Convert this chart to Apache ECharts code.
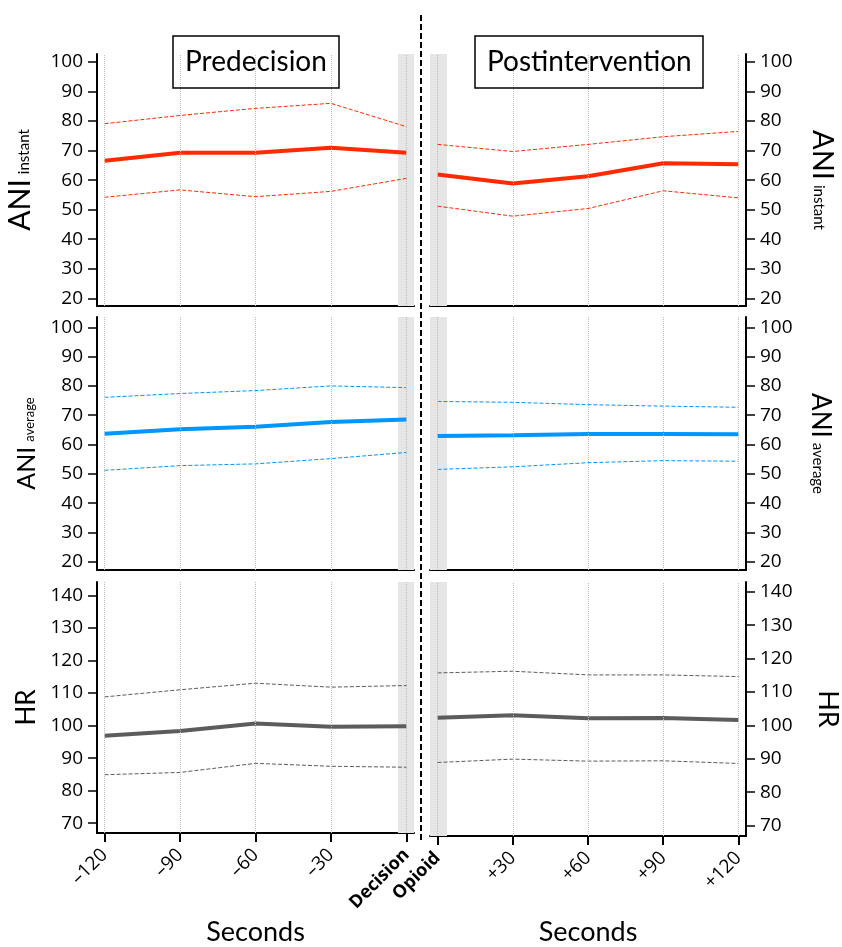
<!DOCTYPE html>
<html><head><meta charset="utf-8">
<script src="https://cdn.jsdelivr.net/npm/echarts@6/dist/echarts.min.js"></script>
<style>html,body{margin:0;padding:0;background:#fff}#c{width:842px;height:947px}</style>
</head><body><div id="c"></div>
<script>
const preSeconds = [-120, -90, -60, -30, 0];
const preLabels = ['–120', '–90', '–60', '–30', 'Decision'];
const postSeconds = [0, 30, 60, 90, 120];
const postLabels = ['Opioid', '+30', '+60', '+90', '+120'];

const aniInstPreMean = [66.6, 69.3, 69.3, 71.0, 69.3];
const aniInstPreUpper = [79.1, 81.9, 84.3, 86.0, 78.1];
const aniInstPreLower = [54.2, 56.7, 54.4, 56.2, 60.6];
const aniInstPostMean = [61.9, 58.9, 61.3, 65.7, 65.4];
const aniInstPostUpper = [72.1, 69.7, 72.1, 74.7, 76.5];
const aniInstPostLower = [51.2, 47.8, 50.4, 56.4, 54.0];

const aniAvgPreMean = [63.7, 65.2, 66.1, 67.7, 68.5];
const aniAvgPreUpper = [76.1, 77.4, 78.4, 80.0, 79.4];
const aniAvgPreLower = [51.2, 52.8, 53.4, 55.2, 57.3];
const aniAvgPostMean = [62.9, 63.2, 63.6, 63.6, 63.5];
const aniAvgPostUpper = [74.7, 74.4, 73.6, 73.1, 72.7];
const aniAvgPostLower = [51.5, 52.4, 53.8, 54.5, 54.3];

const hrPreMean = [96.9, 98.3, 100.6, 99.6, 99.8];
const hrPreUpper = [108.8, 111.0, 113.0, 111.8, 112.3];
const hrPreLower = [84.9, 85.6, 88.4, 87.5, 87.2];
const hrPostMean = [102.3, 103.0, 102.1, 102.2, 101.6];
const hrPostUpper = [115.7, 116.2, 115.1, 115.1, 114.6];
const hrPostLower = [88.9, 89.9, 89.3, 89.4, 88.6];

const aniTicks = [20, 30, 40, 50, 60, 70, 80, 90, 100];
const hrTicks = [70, 80, 90, 100, 110, 120, 130, 140];

const RED = '#ff2a00', BLUE = '#0096ff', GRAY = '#5c5c5c';
const FONT = 'Lato';
const TICKFONT = 'Open Sans';

const chart = echarts.init(document.getElementById('c'), null, {renderer: 'canvas'});

const grids = [
  {left: 97, top: 54, width: 317, height: 252},
  {left: 430, top: 54, width: 316, height: 252},
  {left: 97, top: 317, width: 317, height: 253},
  {left: 430, top: 317, width: 316, height: 253},
  {left: 97, top: 582, width: 317, height: 254},
  {left: 430, top: 582, width: 316, height: 254}
];

function xAx(i, isPre, show, nameGap) {
  const secs = isPre ? preSeconds : postSeconds;
  const labs = isPre ? preLabels : postLabels;
  return {
    type: 'value', gridIndex: i, min: isPre ? -123 : -3, max: isPre ? 3 : 123,
    axisLine: {show: true, onZero: false, lineStyle: {color: '#000', width: 2}},
    axisTick: {show: show, customValues: secs, length: 9, lineStyle: {color: '#000', width: 2}},
    axisLabel: {
      show: show, customValues: secs, rotate: 45, margin: 19,
      fontFamily: TICKFONT, fontSize: 19, color: '#000',
      formatter: function (v) {
        const k = secs.indexOf(v);
        const t = labs[k];
        return (t === 'Decision' || t === 'Opioid') ? '{b|' + t + '}' : t;
      },
      rich: {b: {fontWeight: 'bold', fontSize: 18, fontFamily: TICKFONT, color: '#000'}}
    },
    splitLine: {show: false},
    name: show ? 'Seconds' : '', nameLocation: 'middle', nameGap: nameGap || 0,
    nameMoveOverlap: false,
    nameTextStyle: {fontFamily: FONT, fontSize: 27, color: '#000'}
  };
}

function yAx(i, right, min, max, ticks, big, small, bigSize, smallSize, nameGap) {
  return {
    type: 'value', gridIndex: i, position: right ? 'right' : 'left', min: min, max: max,
    axisLine: {show: true, onZero: false, lineStyle: {color: '#000', width: 2}},
    axisTick: {show: true, customValues: ticks, length: 9, lineStyle: {color: '#000', width: 1.5}},
    axisLabel: {customValues: ticks, margin: 14, fontFamily: TICKFONT, fontSize: 19, color: '#000'},
    splitLine: {show: false},
    name: small ? '{a|' + big + '}{s|' + small + '}' : '{a|' + big + '}',
    nameLocation: 'middle', nameGap: nameGap, nameRotate: right ? -90 : 90,
    nameMoveOverlap: false,
    nameTextStyle: {
      fontFamily: FONT, color: '#000',
      rich: {
        a: {fontFamily: FONT, fontSize: bigSize, color: '#000'},
        s: {fontFamily: FONT, fontSize: smallSize, color: '#000', verticalAlign: 'bottom', padding: [0, 0, 3, 5]}
      }
    }
  };
}

function panel(i, xs, mean, upper, lower, color, bandFrom, bandTo) {
  const pts = arr => xs.map((x, k) => [x, arr[k]]);
  const dashed = (arr) => ({
    type: 'line', xAxisIndex: i, yAxisIndex: i, data: pts(arr), symbol: 'none', silent: true, z: 3,
    lineStyle: {color: color, width: 1, type: [4, 2]}
  });
  return [
    {
      type: 'line', xAxisIndex: i, yAxisIndex: i, data: pts(mean), symbol: 'none', silent: true, z: 1,
      lineStyle: {opacity: 0},
      markArea: {silent: true, itemStyle: {color: '#e6e6e6'}, data: [[{xAxis: bandFrom}, {xAxis: bandTo}]]},
      markLine: {
        silent: true, symbol: 'none', label: {show: false},
        lineStyle: {type: 'dotted', color: '#bdbdbd', width: 1},
        data: xs.map(x => ({xAxis: x}))
      }
    },
    dashed(upper),
    dashed(lower),
    {
      type: 'line', xAxisIndex: i, yAxisIndex: i, data: pts(mean), symbol: 'none', silent: true, z: 4,
      lineStyle: {color: color, width: 4}
    }
  ];
}

const option = {
  animation: false,
  backgroundColor: '#fff',
  title: [
    {text: 'Predecision', left: 173, top: 36, borderColor: '#000', borderWidth: 1.5, padding: [12, 12],
     textStyle: {fontFamily: FONT, fontSize: 28, fontWeight: 'normal', color: '#000', lineHeight: 28}},
    {text: 'Postintervention', left: 475, top: 36, borderColor: '#000', borderWidth: 1.5, padding: [12, 12],
     textStyle: {fontFamily: FONT, fontSize: 28, fontWeight: 'normal', color: '#000', lineHeight: 28}}
  ],
  grid: grids,
  xAxis: [
    xAx(0, true, false), xAx(1, false, false),
    xAx(2, true, false), xAx(3, false, false),
    xAx(4, true, true, 86), xAx(5, false, true, 83)
  ],
  yAxis: [
    yAx(0, false, 17.4, 102.7, aniTicks, 'ANI', 'instant', 30, 15, 62),
    yAx(1, true, 17.4, 102.7, aniTicks, 'ANI', 'instant', 29, 15, 62),
    yAx(2, false, 17.2, 103.5, aniTicks, 'ANI', 'average', 25, 13, 58),
    yAx(3, true, 17.2, 103.5, aniTicks, 'ANI', 'average', 26, 15, 61),
    yAx(4, false, 67.0, 144.1, hrTicks, 'HR', '', 26, 13, 57),
    yAx(5, true, 66.9, 142.9, hrTicks, 'HR', '', 27, 13, 68)
  ],
  series: [].concat(
    panel(0, preSeconds, aniInstPreMean, aniInstPreUpper, aniInstPreLower, RED, -3.4, 3),
    panel(1, postSeconds, aniInstPostMean, aniInstPostUpper, aniInstPostLower, RED, -3, 3.8),
    panel(2, preSeconds, aniAvgPreMean, aniAvgPreUpper, aniAvgPreLower, BLUE, -3.4, 3),
    panel(3, postSeconds, aniAvgPostMean, aniAvgPostUpper, aniAvgPostLower, BLUE, -3, 3.8),
    panel(4, preSeconds, hrPreMean, hrPreUpper, hrPreLower, GRAY, -3.4, 3),
    panel(5, postSeconds, hrPostMean, hrPostUpper, hrPostLower, GRAY, -3, 3.8)
  ),
  graphic: [
    {type: 'line', shape: {x1: 421, y1: 15, x2: 421, y2: 842}, style: {stroke: '#000', lineWidth: 2, lineDash: [6, 3]}, z: 10, silent: true}
  ]
};
chart.setOption(option);
</script>
</body></html>
